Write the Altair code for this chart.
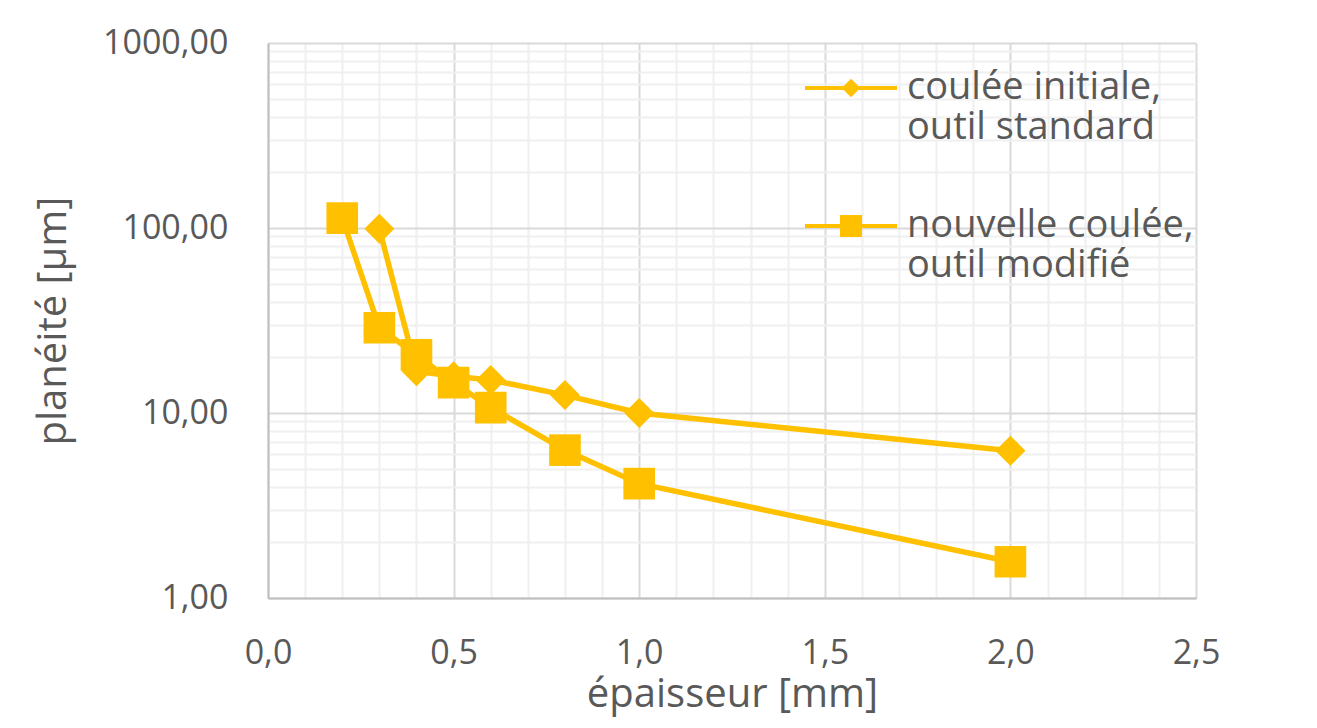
import altair as alt
import pandas as pd

# Data
serie_names = ["coulée initiale, outil standard", "nouvelle coulée, outil modifié"]

x_initiale = [0.3, 0.4, 0.5, 0.6, 0.8, 1.0, 2.0]
y_initiale = [99.0, 16.8, 15.8, 15.1, 12.5, 10.0, 6.25]

x_nouvelle = [0.2, 0.3, 0.4, 0.5, 0.6, 0.8, 1.0, 2.0]
y_nouvelle = [113.0, 28.9, 20.6, 14.6, 10.7, 6.3, 4.15, 1.57]

x_ticks = [round(i * 0.1, 1) for i in range(26)]
y_major = [1, 10, 100, 1000]
y_ticks = [m * d for d in [1, 10, 100] for m in range(1, 10)] + [1000]

rows = []
for x, y in zip(x_initiale, y_initiale):
    rows.append({"x": x, "y": y, "serie": serie_names[0], "order": len(rows)})
for x, y in zip(x_nouvelle, y_nouvelle):
    rows.append({"x": x, "y": y, "serie": serie_names[1], "order": len(rows)})
df = pd.DataFrame(rows)

GOLD = "#FFC000"
TXT = "#595959"
FONT = "Open Sans"

major_x_test = "abs(datum.value*2 - round(datum.value*2)) < 0.000001"
major_y_test = "indexof([1,10,100,1000], datum.value) >= 0"

x_enc = alt.X(
    "x:Q",
    scale=alt.Scale(domain=[0, 2.5], nice=False, zero=False),
    axis=alt.Axis(
        title="épaisseur [mm]",
        values=x_ticks,
        labelExpr=f"({major_x_test}) ? replace(format(datum.value, '.1f'), '.', ',') : ''",
        labelFlush=False,
        labelOverlap=False,
        labelPadding=38,
        ticks=False,
        gridColor={"condition": {"test": major_x_test, "value": "#d9d9d9"}, "value": "#f0f0f0"},
        titlePadding=4,
    ),
)
y_enc = alt.Y(
    "y:Q",
    scale=alt.Scale(type="log", domain=[1, 1000], nice=False),
    axis=alt.Axis(
        title="planéité [µm]",
        values=y_ticks,
        labelExpr=f"({major_y_test}) ? replace(format(datum.value, '.2f'), '.', ',') : ''",
        labelOverlap=False,
        labelPadding=40,
        ticks=False,
        gridColor={"condition": {"test": major_y_test, "value": "#d9d9d9"}, "value": "#f0f0f0"},
        titlePadding=29,
    ),
)

line = alt.Chart(df).mark_line(strokeWidth=5.5, color=GOLD).encode(
    x=x_enc, y=y_enc, detail="serie:N", order="order:Q"
)

points = alt.Chart(df).mark_point(filled=True, opacity=1, color=GOLD).encode(
    x=x_enc,
    y=y_enc,
    shape=alt.Shape("serie:N", scale=alt.Scale(domain=serie_names, range=["diamond", "square"]), legend=None),
    size=alt.Size("serie:N", scale=alt.Scale(domain=serie_names, range=[900, 1000]), legend=None),
)

diamond_path = "M-1,-0.045H1V0.045H-1Z M0,-0.2L0.2,0L0,0.2L-0.2,0Z"
square_path = "M-1,-0.045H1V0.045H-1Z M-0.24,-0.24H0.24V0.24H-0.24Z"

legend_layer = alt.Chart(df).mark_point(filled=True, opacity=1, color=GOLD).transform_filter("false").encode(
    x=x_enc,
    y=y_enc,
    shape=alt.Shape(
        "serie:N",
        scale=alt.Scale(domain=serie_names, range=[diamond_path, square_path]),
        legend=alt.Legend(
            title=None,
            orient="none",
            legendX=537,
            legendY=-1,
            padding=0,
            symbolSize=8464,
            symbolFillColor=GOLD,
            symbolStrokeWidth=0,
            labelFont=FONT,
            labelFontSize=38,
            labelColor=TXT,
            labelOffset=10,
            labelLimit=400,
            rowPadding=33,
            labelExpr="split(replace(datum.label, ', ', ',|'), '|')",
        ),
    ),
)

chart = (
    alt.layer(line, points, legend_layer)
    .resolve_scale(shape="independent", size="independent")
    .properties(
        width=928,
        height=555,
        autosize=alt.AutoSizeParams(type="none"),
        padding={"left": 260, "top": 35, "right": 100, "bottom": 125},
    )
    .configure_view(stroke=None)
    .configure_axis(
        labelFont=FONT,
        labelFontSize=34,
        labelColor=TXT,
        titleFont=FONT,
        titleFontSize=40,
        titleFontWeight="normal",
        titleColor=TXT,
        domainColor="#bfbfbf",
        domainWidth=2,
        gridWidth=2,
    )
)

chart.save("out.html", embed_options={"renderer": "svg", "actions": False})
